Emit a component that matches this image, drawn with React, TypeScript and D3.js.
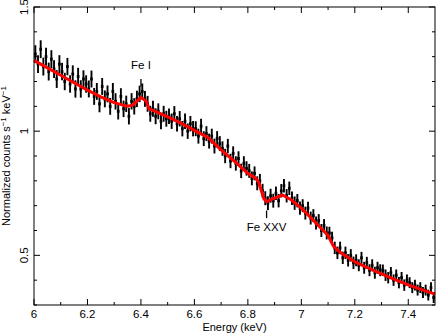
import * as d3 from "d3";
import React from "react";

// spectrum bins, 0.01 keV wide, starting at 6.00 keV
const binStart = 6.0;
const binWidth = 0.01;
const counts = [
  1.31, 1.27, 1.33, 1.26, 1.3, 1.24, 1.29, 1.25, 1.21, 1.27,
  1.24, 1.2, 1.26, 1.19, 1.23, 1.17, 1.22, 1.17, 1.21, 1.19,
  1.17, 1.21, 1.14, 1.16, 1.11, 1.18, 1.13, 1.15, 1.1, 1.16,
  1.12, 1.08, 1.14, 1.09, 1.11, 1.06, 1.12, 1.1, 1.13, 1.15,
  1.16, 1.13, 1.11, 1.07, 1.09, 1.06, 1.08, 1.04, 1.07, 1.05,
  1.06, 1.04, 1.07, 1.03, 1.05, 1.01, 1.04, 1.0, 1.03, 1.01,
  1.01, 0.98, 1.02, 0.97, 0.99, 0.96, 0.98, 0.94, 0.97, 0.95,
  0.93, 0.9, 0.94, 0.88, 0.91, 0.87, 0.89, 0.84, 0.87, 0.85,
  0.84, 0.81, 0.83, 0.79, 0.8, 0.76, 0.73, 0.71, 0.74, 0.72,
  0.75, 0.72, 0.76, 0.78, 0.74, 0.77, 0.73, 0.71, 0.72, 0.69,
  0.7, 0.67, 0.69, 0.65, 0.66, 0.63, 0.64, 0.6, 0.62, 0.59,
  0.59, 0.57, 0.53, 0.51, 0.53, 0.49, 0.51, 0.48, 0.5, 0.47,
  0.48, 0.46, 0.49, 0.45, 0.47, 0.44, 0.46, 0.43, 0.45, 0.44,
  0.44, 0.42, 0.41, 0.43, 0.4, 0.42, 0.39, 0.41, 0.38, 0.4,
  0.39, 0.37, 0.38, 0.36, 0.37, 0.35, 0.36, 0.34, 0.37, 0.33,
];
// error half-widths, one value per 0.1 keV segment
const segErrors = [
  0.036, 0.035, 0.034, 0.033, 0.032, 0.031, 0.03, 0.029, 0.028, 0.027,
  0.026, 0.025, 0.024, 0.023, 0.022,
];

// model curve
const modelE = [
  6.0, 6.05, 6.1, 6.15, 6.2, 6.25, 6.3, 6.35, 6.37, 6.4, 6.42, 6.43, 6.45,
  6.5, 6.55, 6.6, 6.65, 6.7, 6.75, 6.8, 6.83, 6.84, 6.86, 6.87, 6.9, 6.93,
  6.96, 7.0, 7.05, 7.1, 7.12, 7.15, 7.2, 7.25, 7.3, 7.35, 7.4, 7.45, 7.5,
];
const modelV = [
  1.285, 1.255, 1.225, 1.195, 1.165, 1.138, 1.115, 1.1, 1.105, 1.136, 1.12,
  1.09, 1.082, 1.058, 1.032, 1.003, 0.975, 0.925, 0.878, 0.83, 0.81, 0.795,
  0.728, 0.716, 0.73, 0.743, 0.725, 0.69, 0.635, 0.58, 0.537, 0.508, 0.474,
  0.449, 0.425, 0.402, 0.381, 0.362, 0.344,
];

const xTicks = [6, 6.2, 6.4, 6.6, 6.8, 7, 7.2, 7.4];
const xMinor = [6.1, 6.3, 6.5, 6.7, 6.9, 7.1, 7.3];
const yTicks = [0.5, 1, 1.5];
const yMinor = [0.3, 0.4, 0.6, 0.7, 0.8, 0.9, 1.1, 1.2, 1.3, 1.4];

const W = 436;
const H = 334;
const m = { left: 34, right: 1, top: 7, bottom: 29 };
const font = "'Liberation Sans', Arial, sans-serif";

export default function App() {
  const x = d3.scaleLinear().domain([6, 7.5]).range([m.left, W - m.right]);
  const y = d3.scaleLinear().domain([0.3, 1.5]).range([H - m.bottom, m.top]);
  const x0 = x.range()[0], x1 = x.range()[1];
  const y0 = y.range()[0], y1 = y.range()[1];

  const bins = counts.map((v, i) => ({
    lo: binStart + i * binWidth,
    hi: binStart + (i + 1) * binWidth,
    v,
    e: segErrors[Math.floor(i / 10)],
  }));

  const line = d3
    .line<number>()
    .x((_, i) => x(modelE[i]))
    .y((d) => y(d));

  const major = 6;
  const minor = 3;

  return (
    <svg
      width={W}
      height={H}
      style={{ position: "absolute", left: 0, top: 0, background: "#fff" }}
      fontFamily={font}
    >
      {/* data */}
      <g stroke="#000">
        {bins.map((b, i) => (
          <g key={i}>
            <line
              x1={x((b.lo + b.hi) / 2)}
              x2={x((b.lo + b.hi) / 2)}
              y1={y(b.v - b.e)}
              y2={y(b.v + b.e)}
              strokeWidth={1.9}
            />
            <line x1={x(b.lo)} x2={x(b.hi)} y1={y(b.v)} y2={y(b.v)} strokeWidth={3} />
          </g>
        ))}
      </g>
      {/* model */}
      <path d={line(modelV) ?? ""} fill="none" stroke="#ff0000" strokeWidth={3} strokeLinejoin="round" />

      {/* frame */}
      <rect x={x0} y={y1} width={x1 - x0} height={y0 - y1} fill="none" stroke="#000" strokeWidth={1} />

      {/* ticks */}
      <g stroke="#000" strokeWidth={1}>
        {xTicks.map((t) => (
          <g key={t}>
            <line x1={x(t)} x2={x(t)} y1={y0} y2={y0 - major} />
            <line x1={x(t)} x2={x(t)} y1={y1} y2={y1 + major} />
          </g>
        ))}
        {xMinor.map((t) => (
          <g key={t}>
            <line x1={x(t)} x2={x(t)} y1={y0} y2={y0 - minor} />
            <line x1={x(t)} x2={x(t)} y1={y1} y2={y1 + minor} />
          </g>
        ))}
        {yTicks.map((t) => (
          <g key={t}>
            <line x1={x0} x2={x0 + major} y1={y(t)} y2={y(t)} />
            <line x1={x1} x2={x1 - major} y1={y(t)} y2={y(t)} />
          </g>
        ))}
        {yMinor.map((t) => (
          <g key={t}>
            <line x1={x0} x2={x0 + minor} y1={y(t)} y2={y(t)} />
            <line x1={x1} x2={x1 - minor} y1={y(t)} y2={y(t)} />
          </g>
        ))}
      </g>

      {/* tick labels */}
      <g fontSize={11.5} fill="#000">
        {xTicks.map((t) => (
          <text key={t} x={x(t)} y={y0 + 13} textAnchor="middle">
            {d3.format("~g")(t)}
          </text>
        ))}
        {yTicks.map((t) => (
          <text
            key={t}
            transform={`translate(${x0 - 6},${y(t)}) rotate(-90)`}
            textAnchor="middle"
          >
            {d3.format("~g")(t)}
          </text>
        ))}
      </g>

      {/* axis titles */}
      <text x={(x0 + x1) / 2} y={H - 3} textAnchor="middle" fontSize={11}>
        Energy (keV)
      </text>
      <text transform={`translate(10,${(y0 + y1) / 2}) rotate(-90)`} textAnchor="middle" fontSize={11}>
        Normalized counts s<tspan dy={-4} fontSize={8}>−1</tspan>
        <tspan dy={4}> keV</tspan>
        <tspan dy={-4} fontSize={8}>−1</tspan>
      </text>

      {/* line labels */}
      <text x={x(6.4)} y={y(1.25)} textAnchor="middle" fontSize={11.5}>
        Fe I
      </text>
      <line x1={x(6.4)} x2={x(6.4)} y1={y(1.21)} y2={y(1.18)} stroke="#000" strokeWidth={1.3} />
      <text x={x(6.87)} y={y(0.6)} textAnchor="middle" fontSize={11.5}>
        Fe XXV
      </text>
      <line x1={x(6.87)} x2={x(6.87)} y1={y(0.68)} y2={y(0.65)} stroke="#000" strokeWidth={1.3} />
    </svg>
  );
}
